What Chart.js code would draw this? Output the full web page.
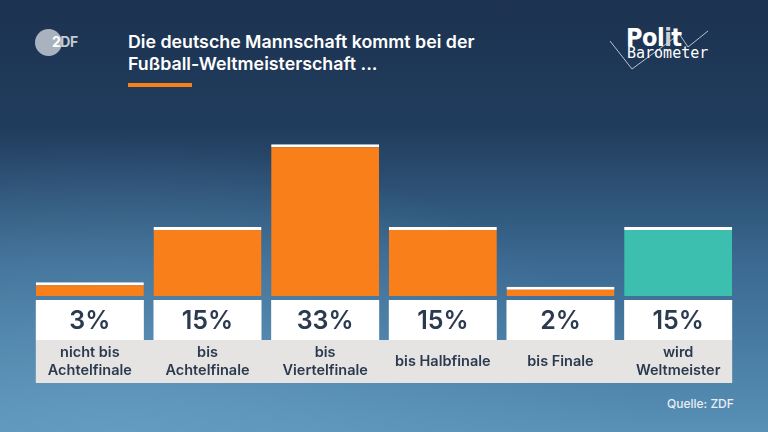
<!DOCTYPE html>
<html>
<head>
<meta charset="utf-8">
<script src="https://cdn.jsdelivr.net/npm/chart.js@4"></script>
<style>
  html, body { margin: 0; padding: 0; }
  body {
    width: 768px; height: 432px; overflow: hidden; position: relative;
    font-family: "Inter", "Roboto", sans-serif;
    background:
      radial-gradient(ellipse 520px 300px at 120px 440px, rgba(110,165,200,0.55), rgba(110,165,200,0) 100%),
      linear-gradient(180deg, #1c3250 0%, #213d5e 30%, #3a6890 60%, #5890b6 100%);
  }
  #wrap { position: absolute; left: 0; top: 0; width: 768px; height: 432px; }
  .title { position: absolute; left: 128px; top: 31px; color: #fff; font-size: 17.8px; font-weight: 600; line-height: 22px; }
  .bar { position: absolute; left: 128px; top: 83px; width: 64px; height: 4px; background: #f97f1b; }
  .zdf { position: absolute; left: 35px; top: 29px; width: 27px; height: 27px; border-radius: 50%; background: #a9b3c0; }
  .zdft { position: absolute; left: 52px; top: 35px; color: #ffffff; font-size: 14px; line-height: 14px; font-weight: 700; letter-spacing: -0.5px; }
  .zdft span { color: #c3cad3; }
  .polit { position: absolute; left: 626px; top: 25px; color: #fff; font-size: 25px; line-height: 25px; font-weight: 700; font-family: "DejaVu Sans Condensed", "DejaVu Sans", sans-serif; letter-spacing: -0.5px; }
  .polit span { color: #c9d0d8; }
  .baro { position: absolute; left: 627px; top: 44px; color: #fff; font-size: 15px; line-height: 18px; font-family: "DejaVu Sans Mono", monospace; }
  .check { position: absolute; left: 608px; top: 28px; }
  .src { position: absolute; left: 667px; top: 396px; color: #e8eef4; font-size: 12px; font-weight: 500; }
</style>
</head>
<body>
<svg class="check" width="132" height="48" viewBox="0 0 132 48">
  <polyline points="2,13 24,41 73,5" fill="none" stroke="#b8c4d0" stroke-width="1"/>
  <polyline points="72,7 80,19 100,3" fill="none" stroke="#b8c4d0" stroke-width="1"/>
</svg>
<div class="zdf"></div>
<div class="zdft">2<span>DF</span></div>
<div class="polit">Pol<span>i</span>t</div>
<div class="baro">Barometer</div>
<div class="title">Die deutsche Mannschaft kommt bei der<br>Fußball-Weltmeisterschaft ...</div>
<div class="bar"></div>
<div class="src">Quelle: ZDF</div>
<div id="wrap"><canvas id="myChart" width="768" height="432"></canvas></div>
<script>
const categories = [
  ["nicht bis", "Achtelfinale"],
  ["bis", "Achtelfinale"],
  ["bis", "Viertelfinale"],
  ["bis Halbfinale"],
  ["bis Finale"],
  ["wird", "Weltmeister"]
];
const values = [3, 15, 33, 15, 2, 15];
const valueLabels = ["3%", "15%", "33%", "15%", "2%", "15%"];
const barColors = ["#f97f1b", "#f97f1b", "#f97f1b", "#f97f1b", "#f97f1b", "#3dbfb0"];

// boxes with the percentages and the category names under the bars
const boxPlugin = {
  id: 'boxes',
  afterDatasetsDraw(chart) {
    const c = chart.ctx;
    const meta = chart.getDatasetMeta(0);
    const first = meta.data[0], last = meta.data[meta.data.length - 1];
    const left = first.x - first.width / 2;
    const right = last.x + last.width / 2;
    c.save();
    c.fillStyle = '#e6e4e2';
    c.fillRect(left, 340, right - left, 43);
    meta.data.forEach((bar, i) => {
      const bx = bar.x - bar.width / 2;
      c.fillStyle = '#ffffff';
      c.fillRect(bx, 300, bar.width, 40);
      c.fillStyle = '#2b3a4f';
      c.textAlign = 'center';
      c.textBaseline = 'middle';
      c.font = '600 25px Inter, Roboto, sans-serif';
      c.fillText(valueLabels[i], bar.x, 321);
      c.font = '600 14.5px Inter, Roboto, sans-serif';
      const lines = categories[i];
      if (lines.length === 1) {
        c.fillText(lines[0], bar.x, 362);
      } else {
        c.fillText(lines[0], bar.x, 353);
        c.fillText(lines[1], bar.x, 371);
      }
    });
    c.restore();
  }
};

const ctx = document.getElementById('myChart').getContext('2d');
let barChart = new Chart(ctx, {
  type: 'bar',
  data: {
    labels: categories,
    datasets: [{
      data: values,
      backgroundColor: barColors,
      borderColor: '#ffffff',
      borderWidth: { top: 3, left: 0, right: 0, bottom: 0 },
      borderSkipped: 'bottom',
      categoryPercentage: 1.0,
      barPercentage: 0.918
    }]
  },
  options: {
    responsive: false,
    animation: false,
    layout: { padding: { left: 31, right: 31, top: 112, bottom: 136 } },
    plugins: { legend: { display: false }, tooltip: { enabled: false } },
    scales: {
      x: { display: false },
      y: { display: false, min: 0, max: 40 }
    }
  },
  plugins: [boxPlugin]
});
</script>
</body>
</html>
